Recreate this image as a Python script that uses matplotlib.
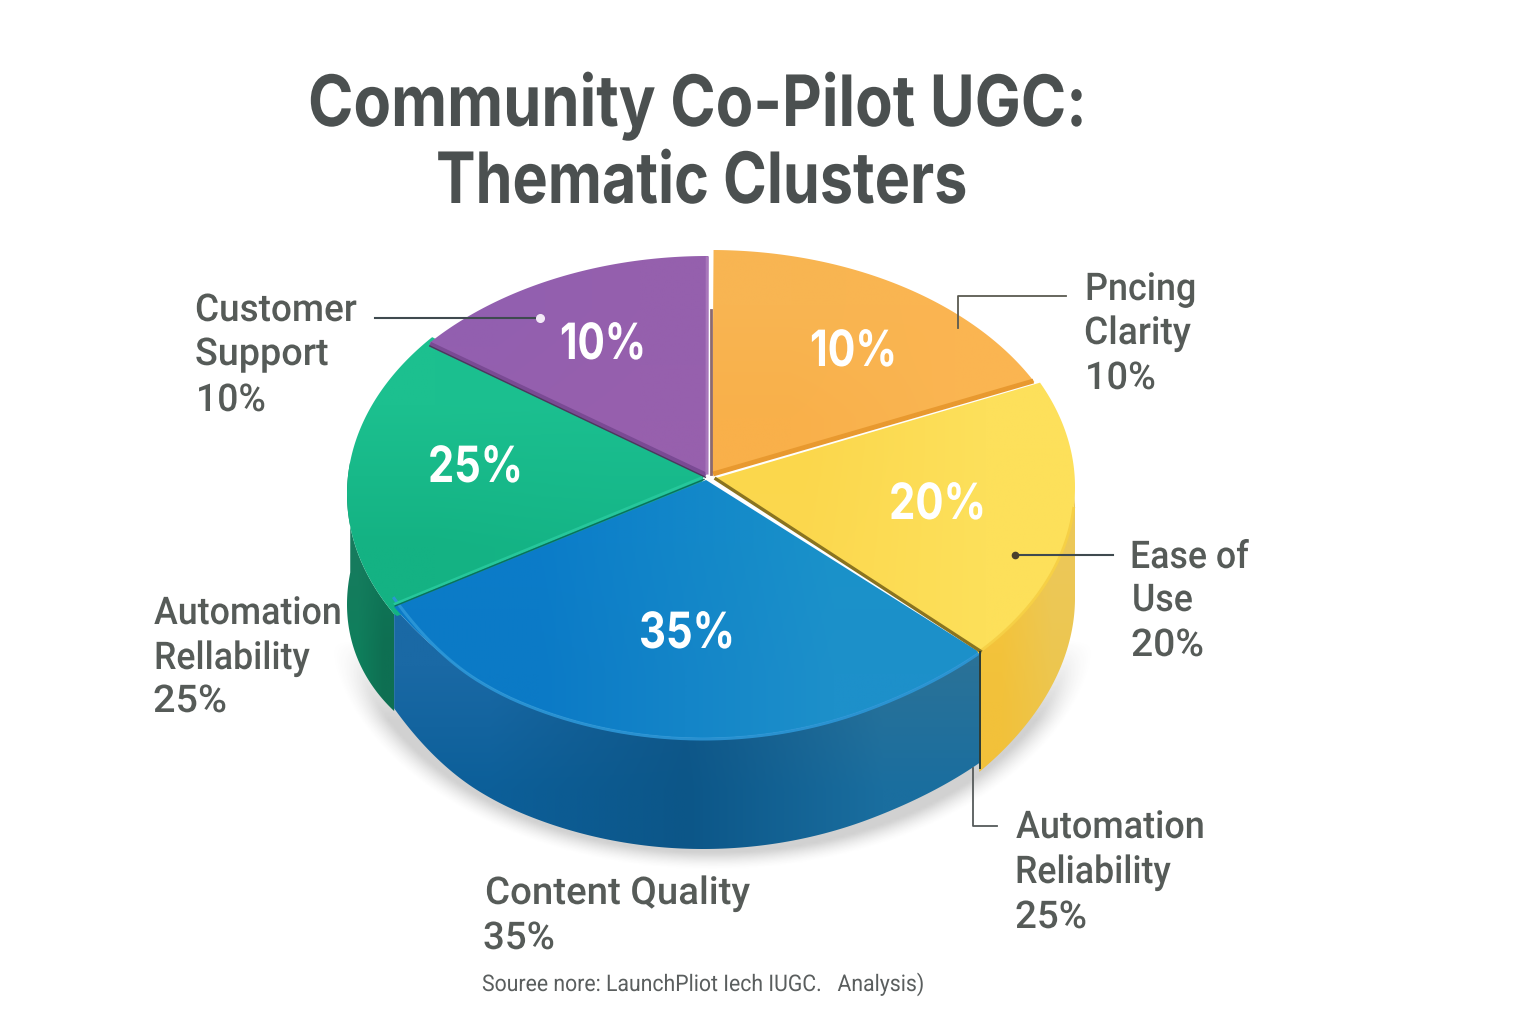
import numpy as np
import matplotlib
matplotlib.use("Agg")
import matplotlib.pyplot as plt
from matplotlib.colors import to_rgb
from matplotlib.patches import Polygon
from matplotlib.patheffects import AbstractPathEffect
from matplotlib.transforms import Affine2D

# ---------- data ----------
categories = ["Pricing Clarity", "Ease of Use", "Content Quality", "Automation Reliability", "Customer Support"]
percent_labels = ["10%", "20%", "35%", "25%", "10%"]
# the drawn wedge sizes (share of the circle)
drawn_shares = [17.3, 19.4, 30.0, 19.3, 13.9]
top_colors = [
    [["#f8b552", "#fbb551"], ["#f9b04a", "#fab552"]],
    [["#fbd74c", "#fde05b"], ["#fcd84f", "#fde05a"]],
    [["#0b7cc9", "#1a92c9"], ["#0b7ac6", "#1d90ca"]],
    [["#1cc08f", "#1bbf90"], ["#14b283", "#15b587"]],
    [["#925fb0", "#9560ad"], ["#955fae", "#9760ad"]],
]
side_colors = [
    None,
    [["#f5c63d", "#ecc858"], ["#f2c13a", "#edc64d"]],
    [["#1a69a5", "#12588a", "#2a7298"], ["#0c5f99", "#0c5688", "#1a6e9f"]],
    [["#197a5e", "#0f7a5a"], ["#0f7f5c", "#0e6f52"]],
    None,
]
title_lines = ["Community Co-Pilot UGC:", "Thematic Clusters"]
outer_lines = [
    ["Pncing", "Clarity", "10%"],
    ["Ease of", "Use", "20%"],
    ["Automation", "Reliability", "25%"],
    ["Automation", "Rellability", "25%"],
    ["Customer", "Support", "10%"],
    ["Content Quality", "35%"],
]
source_text = "Souree nore: LaunchPliot Iech IUGC.   Analysis)"

# ---------- layout ----------
W, H = 1536, 1024
CX, CY, RX, RY = 711, 494, 364, 244
DEPTH = 111
START = 89.6
apexes = [(712, 473), (716, 478), (706, 480), (702, 484), (706, 475)]
# each slice's own rim ellipse (the picture's rim is not one true ellipse)
rims = [(711, 494, 364, 244), (711, 487, 364, 244), (703, 408, 400, 330),
        (711, 494, 364, 244), (708, 500, 364, 244)]

plt.rcParams["font.family"] = ["Inter", "Roboto", "DejaVu Sans"]
fig = plt.figure(figsize=(W / 100, H / 100), dpi=100, facecolor="white")
ax = fig.add_axes([0, 0, 1, 1])
ax.set_axis_off()
ax.set_xlim(0, W)
ax.set_ylim(H, 0)
renderer = fig.canvas.get_renderer()


class HScale(AbstractPathEffect):
    """Narrow a text horizontally about its left edge."""
    def __init__(self, sx, x0):
        super().__init__()
        self.sx, self.x0 = sx, x0

    def draw_path(self, renderer, gc, tpath, affine, rgbFace=None):
        tr = affine + Affine2D().translate(-self.x0, 0).scale(self.sx, 1).translate(self.x0, 0)
        renderer.draw_path(gc, tpath, tr, rgbFace)


def put(x0, x1, y, s, **kw):
    t = ax.text(x0, y, s, ha="left", va="baseline", zorder=10, **kw)
    bb = t.get_window_extent(renderer)
    t.set_path_effects([HScale((x1 - x0) / bb.width, bb.x0)])
    return t


def rim(i, t, drop=0):
    cx, cy, rx, ry = rims[i]
    t = np.radians(t)
    x = cx + rx * np.cos(t)
    y = cy + drop - ry * np.sin(t)
    if i == 2:  # front rim is pinched at its ends
        y = y - 11 * (np.clip(520 - x, 0, None) / 127) ** 2 + 5 * (np.clip(x - 870, 0, None) / 105) ** 2
        if drop:
            y = y - 10 * (np.clip(480 - x, 0, None) / 88) ** 2
    return x, y


def shaded(xs, ys, colors, z):
    arr = np.array([[to_rgb(c) for c in row] for row in colors])
    x0, x1, y0, y1 = min(xs) - 2, max(xs) + 2, min(ys) - 2, max(ys) + 2
    im = ax.imshow(arr, extent=(x0, x1, y1, y0), aspect="auto",
                   interpolation="bilinear", zorder=z)
    patch = Polygon(np.column_stack([xs, ys]), closed=True, transform=ax.transData,
                    fc="none", ec="none")
    im.set_clip_path(patch)


# soft drop shadow
gx, gy = np.meshgrid(np.arange(0, W, 3), np.arange(0, H, 3))
d = np.hypot((gx - CX) / RX, (gy - (CY + DEPTH + 4)) / RY)
alpha = np.clip((1.07 - d) / 0.07, 0, 1) ** 1.5 * 0.24 * np.clip((gy - 640) / 80, 0, 1)
shadow = np.zeros(gx.shape + (4,))
shadow[..., :3] = 0.25
shadow[..., 3] = alpha
ax.imshow(shadow, extent=(0, W, H, 0), aspect="auto", interpolation="bilinear", zorder=1)

# wedge angle limits on the nominal ellipse, then per-slice limits on each slice's rim
bounds = START - np.cumsum([0] + drawn_shares) * 3.6
limits = [(bounds[i], bounds[i + 1]) for i in range(5)]
limits[1] = (bounds[1] - 2, bounds[2])
xr = CX + RX * np.cos(np.radians(bounds[2]))
xl = CX + RX * np.cos(np.radians(bounds[3]))
bcx, _, brx, _ = rims[2]
limits[2] = (-np.degrees(np.arccos((xr - bcx) / brx)), -np.degrees(np.arccos((xl - bcx) / brx)))

# sides (drawn first)
for i, col in enumerate(side_colors):
    if col is None:
        continue
    t = np.linspace(*limits[i], 160)
    if i == 1:
        t = t[t <= 0]
    elif i == 3:
        t = t[t >= -188]
    xt, yt = rim(i, t)
    xb, yb = rim(i, t[::-1], drop=DEPTH)
    ramp = np.linspace(0, 1, len(t))
    if i == 1:   # bottom edge meets the blue corner lower down
        yb = yb + 9 * (1 - ramp) ** 2
    elif i == 3:  # bottom edge is pinched toward the blue corner
        yb = yb - 14 * ramp ** 2
    shaded(np.r_[xt, xb], np.r_[yt, yb], col, 3 + (i == 2))

# top surfaces
for i, col in enumerate(top_colors):
    t = np.linspace(*limits[i], 200)
    xa, ya = rim(i, t)
    xs = np.r_[apexes[i][0], xa]
    ys = np.r_[apexes[i][1], ya]
    if i == 3:  # run under the blue slice and the purple slice so no gap shows
        xs = np.r_[xs[0], xa[0] + 3, xa, 704]
        ys = np.r_[ys[0], ya[0] + 2, ya, 475]
    shaded(xs, ys, col, 5.5 if i == 2 else 5)

# bevels and seams
t = np.linspace(*limits[2], 200)
ax.plot(*rim(2, t, drop=1), color="#2c97d8", lw=2.2, zorder=6, alpha=0.9)
t = np.linspace(-5, limits[1][1], 100)
ax.plot(*rim(1, t), color="#f6d046", lw=2, zorder=6)
x1, y1 = rim(0, limits[0][1])
ax.plot([apexes[0][0] + 1, x1 - 1], [apexes[0][1] + 1, y1 - 1], color="#e8992f", lw=3.5, zorder=7, solid_capstyle="butt")
x4, y4 = rim(4, limits[3][1])
ax.plot([apexes[4][0], x4 + 1], [apexes[4][1], y4 + 1], color="#7a4a94", lw=3.5, zorder=7, solid_capstyle="butt")
ax.plot([apexes[4][0], x4], [apexes[4][1] + 2.5, y4 + 2.5], color="#4a3a5c", lw=1, zorder=7, solid_capstyle="butt")
xp, yp = rim(4, limits[4][1])
ax.plot([apexes[4][0] + 1, xp - 1], [apexes[4][1] - 2, yp + 2], color="#a877bb", lw=2.2, zorder=7)
ax.plot([710.5, 710.5], [apexes[4][1] - 1, 310], color="#8b6a6f", lw=2, zorder=7)
x3, y3 = rim(2, limits[2][1])
ax.plot([701, x3 + 1], [478, y3 - 3], color="#26c79b", lw=2, zorder=7)
ax.plot([704, x3 + 1], [479.5, y3 - 1], color="#0a6f5c", lw=1, zorder=7)
x2, y2 = rim(2, limits[2][0])
ax.plot([apexes[1][0], x2 + 1], [apexes[1][1] + 1, y2 - 1], color="#8a7420", lw=2.4, zorder=7)
ax.plot([x2 + 1, x2 + 1], [y2, y2 + DEPTH + 5], color="#2b3a35", lw=1.4, zorder=7)

# leader lines
LC = "#3f4a4f"
ax.plot([375, 540], [318, 318], color=LC, lw=1.5, zorder=8)
ax.plot([540], [318], "o", ms=5.5, color="#f3eaf7", zorder=9)
ax.plot([1066, 958, 958], [296, 296, 328], color="#5a5a50", lw=1.3, zorder=8)
ax.plot([1113, 1015], [555, 555], color=LC, lw=1.5, zorder=8)
ax.plot([1015], [555], "o", ms=4.5, color="#4a3f2c", zorder=9)
ax.plot([973, 973, 997], [768, 826, 826], color="#555a5a", lw=1.3, zorder=8)

# title
TC = "#4b5050"
for line, (x0, x1), y in zip(title_lines, [(308, 1086), (436, 967)], [126, 203]):
    put(x0, x1, y, line, fontsize=51, fontweight="bold", color=TC)

# slice values
inner_pos = [(810, 897, 366), (889, 986, 519), (639, 735, 648), (428, 523, 482), (560, 646, 359)]
for lab, (x0, x1, y) in zip(percent_labels, inner_pos):
    put(x0, x1, y, lab, fontsize=36, fontweight="bold", color="#ffffff")

# outer labels
LABC = "#565b58"
outer_pos = [
    [(1085, 1196, 300), (1084, 1191, 344), (1085, 1156, 389)],
    [(1130, 1249, 568), (1132, 1193, 611), (1131, 1204, 656)],
    [(1016, 1205, 838), (1015, 1171, 883), (1015, 1087, 928)],
    [(154, 342, 624), (154, 310, 669), (153, 227, 712)],
    [(195, 357, 321), (195, 329, 365), (196, 266, 411)],
    [(485, 750, 904), (483, 555, 949)],
]
for lines, poss in zip(outer_lines, outer_pos):
    for line, (x0, x1, y) in zip(lines, poss):
        put(x0, x1, y, line, fontsize=27.5, color=LABC,
            family=["Roboto", "DejaVu Sans"], fontweight=500)

put(482, 923, 991, source_text, fontsize=16.5, color="#5a5e5e", family=["Roboto", "DejaVu Sans"])

ax.set_xlim(0, W)
ax.set_ylim(H, 0)
fig.savefig("out.png", dpi=100, facecolor="white")
